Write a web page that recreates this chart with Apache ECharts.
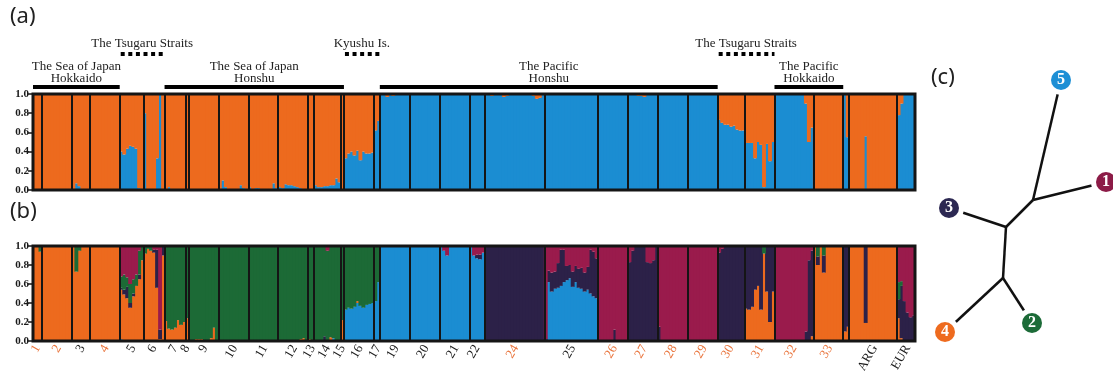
<!DOCTYPE html>
<html><head><meta charset="utf-8">
<script src="https://cdn.jsdelivr.net/npm/echarts@6/dist/echarts.min.js"></script>
<style>html,body{margin:0;padding:0;background:#fff}#c{width:1113px;height:371px}</style>
</head><body><div id="c"></div>
<script>
// ---------- populations ----------
const popLabels = ['1','2','3','4','5','6','7','8','9','10','11','12','13','14','15','16','17','19','20','21','22','24','25','26','27','28','29','30','31','32','33','','ARG','EUR'];
const popSizes  = [3,10,6,10,8,7,7,1,10,10,10,10,2,9,1,10,2,10,10,10,5,20,18,10,10,10,10,9,10,13,10,2,16,6];
const orangeLabelPops = ['1','2','4','24','26','27','28','29','30','31','32','33'];
const yTicks = [0, 0.2, 0.4, 0.6, 0.8, 1.0];

// ---------- (a) K=2 : blue membership per individual (orange = remainder) ----------
const k2Blue = [
 [0,0,0],
 [0,0,0,0,0,0,0,0,0,0],
 [0,0.07,0.04,0,0,0],
 [0,0,0,0,0,0,0,0,0,0],
 [0.40,0.37,0.43,0.46,0.45,0.43,0.02,0],
 [0.80,0,0,0,0.33,1,0],
 [0,0.03,0,0,0,0,0],
 [0],
 [0,0,0,0,0,0,0,0,0,0],
 [0,0.10,0.03,0,0,0,0,0.05,0.02,0],
 [0.03,0,0.02,0.02,0,0,0,0,0.07,0.02],
 [0.03,0.02,0.06,0.05,0.05,0.04,0.03,0.02,0.01,0],
 [0,0],
 [0.05,0.03,0.03,0.04,0.04,0.05,0.05,0.12,0.08],
 [0],
 [0.33,0.38,0.40,0.36,0.41,0.31,0.40,0.38,0.38,0.39],
 [0.62,0.72],
 [1,1,0.97,1,0.98,1,1,1,1,1],
 [1,1,1,1,1,1,1,1,1,1],
 [1,1,1,1,1,1,1,1,1,1],
 [1,0.99,1,1,1],
 [0.99,0.99,0.98,0.99,0.99,0.99,0.97,0.98,0.99,0.99,0.99,0.99,0.99,0.99,0.99,0.99,0.98,0.95,0.96,0.99],
 [1,1,1,1,1,1,1,1,1,1,1,1,1,1,1,1,1,1],
 [1,1,1,1,1,1,1,1,1,1],
 [1,1,1,0.98,0.98,0.97,1,1,1,1],
 [1,1,1,1,1,1,1,1,1,1],
 [1,1,1,1,1,1,1,1,1,1],
 [0.73,0.70,0.68,0.68,0.66,0.67,0.63,0.62,0.62],
 [0.49,0.49,0.49,0.33,0.50,0.47,0.03,0.48,0.30,0.50],
 [1,1,1,1,1,1,1,1,1,1,0.90,0.50,0.65],
 [0,0,0,0,0,0,0,0,0,0],
 [1,0.55],
 [0,0,0,0,0,0.56,0,0,0,0,0,0,0,0,0,0],
 [0.78,0.90,1,1,1,1]
];

// ---------- (b) K=5 ----------
const k5Blue = [
 [0,0,0],
 [0,0,0,0,0,0,0,0,0,0],
 [0,0,0,0,0,0],
 [0,0,0,0,0,0,0,0,0,0],
 [0.02,0,0,0,0,0,0,0],
 [0,0,0,0,0,0,0],
 [0,0,0,0,0,0,0],
 [0],
 [0,0,0,0,0,0,0,0,0,0],
 [0,0,0,0,0,0,0,0,0,0],
 [0,0,0,0,0,0,0,0,0,0],
 [0,0,0,0,0,0,0,0,0,0],
 [0,0],
 [0,0,0,0,0,0,0.03,0,0],
 [0],
 [0.33,0.35,0.34,0.36,0.40,0.37,0.35,0.38,0.39,0.40],
 [0.42,0.62],
 [1,1,1,1,1,1,1,1,1,1],
 [1,1,1,1,1,1,1,1,1,1],
 [1,0.95,0.90,1,1,1,1,1,1,1],
 [1,0.90,0.87,0.86,0.93],
 [0,0,0,0,0,0,0,0,0,0,0,0,0,0,0,0,0,0,0,0],
 [0,0.62,0.52,0.55,0.56,0.58,0.62,0.64,0.66,0.57,0.62,0.56,0.55,0.52,0.54,0.50,0.47,0.45],
 [0,0,0,0,0,0,0,0,0,0],
 [0,0,0,0,0,0,0,0,0,0],
 [0,0,0,0,0,0,0,0,0,0],
 [0,0,0,0,0,0,0,0,0,0],
 [0,0,0,0,0,0,0,0,0],
 [0,0,0,0,0,0,0,0,0,0],
 [0,0,0,0,0,0,0,0,0,0,0,0,0],
 [0,0,0,0,0,0,0,0,0,0],
 [0,0],
 [0,0,0,0,0,0,0,0,0,0,0,0,0,0,0,0],
 [0,0,0,0,0,0]
];
const k5Orange = [
 [1,1,0.94],
 [1,1,1,1,1,1,1,1,1,1],
 [1,0.73,0.95,1,1,1],
 [1,1,1,1,1,1,1,1,1,1],
 [0.52,0.49,0.45,0.35,0.47,0.58,0.65,0.85],
 [0.92,0.97,0.95,0.93,0.56,0.02,0.90],
 [0.21,0.13,0.12,0.14,0.22,0.17,0.20],
 [0.24],
 [0,0,0.02,0.02,0.02,0,0,0.03,0.14,0],
 [0,0,0,0,0,0,0,0,0,0],
 [0,0,0,0,0,0,0,0,0,0],
 [0,0,0,0,0,0,0,0.02,0.03,0],
 [0.02,0],
 [0,0,0,0,0,0.04,0,0,0],
 [0.22],
 [0,0,0,0,0.02,0,0,0,0,0],
 [0,0],
 [0,0,0,0,0,0,0,0,0,0],
 [0,0,0,0,0,0,0,0,0,0],
 [0,0,0,0,0,0,0,0,0,0],
 [0,0,0,0,0],
 [0,0,0,0,0,0,0,0,0,0,0,0,0,0,0,0,0,0,0,0],
 [0,0,0,0,0,0,0,0,0,0,0,0,0,0,0,0,0,0],
 [0,0,0,0,0,0,0,0,0,0],
 [0,0,0,0,0,0,0,0,0,0],
 [0,0,0,0,0,0,0,0,0,0],
 [0,0,0,0,0,0,0,0,0,0],
 [0,0,0,0,0,0,0,0,0],
 [0.34,0.33,0.36,0.54,0.58,0.33,0.92,0.52,0.20,0.52],
 [0,0,0,0,0,0,0,0,0,0,0,0,0.05],
 [1,0.80,1,0.72,1,1,1,1,1,1],
 [0.10,0.15],
 [1,1,1,1,1,0.19,1,1,1,1,1,1,1,1,1,1],
 [0.24,0.03,0,0,0,0]
];
const k5Navy = [
 [0,0,0],
 [0,0,0,0,0,0,0,0,0,0],
 [0,0,0,0,0,0],
 [0,0,0,0,0,0,0,0,0,0],
 [0.02,0.05,0.12,0.05,0.03,0,0.05,0],
 [0,0,0,0.03,0.40,0.10,0.10],
 [0,0,0,0,0,0,0],
 [0],
 [0,0,0,0,0,0,0,0,0,0],
 [0,0,0,0,0,0,0,0,0,0],
 [0,0,0,0,0,0,0,0,0,0],
 [0,0,0,0,0,0,0,0,0,0],
 [0,0],
 [0,0,0,0.05,0,0,0,0,0],
 [0],
 [0,0,0,0,0,0,0,0,0,0],
 [0,0],
 [0,0,0,0,0,0,0,0,0,0],
 [0,0,0,0,0,0,0,0,0,0],
 [0,0,0,0,0,0,0,0,0,0],
 [0,0,0.04,0.05,0],
 [1,1,1,1,1,1,1,1,1,1,1,1,1,1,1,1,1,1,1,1],
 [0.02,0.12,0.20,0.18,0.26,0.38,0.34,0.15,0.14,0.16,0.17,0.20,0.22,0.20,0.24,0.46,0.47,0.42],
 [0,0,0,0,0,0.12,0,0,0,0],
 [0.83,0.95,1,1,1,1,0.83,0.82,0.85,1],
 [0.15,0,0,0,0,0,0,0,0,0],
 [0,0,0,0,0,0,0,0,0,0],
 [0.93,0.97,1,1,1,1,1,1,1],
 [0.66,0.67,0.64,0.46,0.42,0.67,0,0.48,0.80,0.48],
 [0,0,0,0,0,0,0,0,0,0,0.10,0.85,0.90],
 [0,0.09,0,0.18,0,0,0,0,0,0],
 [0.90,0.85],
 [0,0,0,0,0,0.81,0,0,0,0,0,0,0,0,0,0],
 [0.20,0.55,0.42,0.30,0.25,0.27]
];
const k5Green = [
 [0,0,0.06],
 [0,0,0,0,0,0,0,0,0,0],
 [0,0.27,0.05,0,0,0],
 [0,0,0,0,0,0,0,0,0,0],
 [0.12,0.16,0.10,0.20,0.15,0.12,0.25,0.15],
 [0.08,0.03,0.05,0,0,0,0],
 [0.79,0.87,0.88,0.86,0.78,0.83,0.80],
 [0.76],
 [1,1,0.98,0.98,0.98,1,1,0.97,0.86,1],
 [1,1,1,1,1,1,1,1,1,1],
 [1,1,1,1,1,1,1,1,1,1],
 [1,1,1,1,1,1,1,0.98,0.97,1],
 [0.98,1],
 [1,1,1,0.95,0.95,0.96,0.97,1,1],
 [0.78],
 [0.67,0.65,0.66,0.64,0.58,0.63,0.65,0.62,0.61,0.60],
 [0.58,0.38],
 [0,0,0,0,0,0,0,0,0,0],
 [0,0,0,0,0,0,0,0,0,0],
 [0,0,0,0,0,0,0,0,0,0],
 [0,0,0,0,0],
 [0,0,0,0,0,0,0,0,0,0,0,0,0,0,0,0,0,0,0,0],
 [0,0,0,0,0,0,0,0,0,0,0,0,0,0,0,0,0,0],
 [0,0,0,0,0,0,0,0,0,0],
 [0,0,0,0,0,0,0,0,0,0],
 [0,0,0,0,0,0,0,0,0,0],
 [0,0,0,0,0,0,0,0,0,0],
 [0,0,0,0,0,0,0,0,0],
 [0,0,0,0,0,0,0.08,0,0,0],
 [0,0,0,0,0,0,0,0,0,0,0,0,0],
 [0,0.11,0,0.10,0,0,0,0,0,0],
 [0,0],
 [0,0,0,0,0,0,0,0,0,0,0,0,0,0,0,0],
 [0.18,0.05,0,0,0,0]
];
const k5Crimson = [
 [0,0,0],
 [0,0,0,0,0,0,0,0,0,0],
 [0,0,0,0,0,0],
 [0,0,0,0,0,0,0,0,0,0],
 [0.32,0.30,0.33,0.40,0.35,0.30,0.05,0],
 [0,0,0,0.04,0.04,0.88,0],
 [0,0,0,0,0,0,0],
 [0],
 [0,0,0,0,0,0,0,0,0,0],
 [0,0,0,0,0,0,0,0,0,0],
 [0,0,0,0,0,0,0,0,0,0],
 [0,0,0,0,0,0,0,0,0,0],
 [0,0],
 [0,0,0,0,0.05,0,0,0,0],
 [0],
 [0,0,0,0,0,0,0,0,0,0],
 [0,0],
 [0,0,0,0,0,0,0,0,0,0],
 [0,0,0,0,0,0,0,0,0,0],
 [0,0.05,0.10,0,0,0,0,0,0,0],
 [0,0.10,0.09,0.09,0.07],
 [0,0,0,0,0,0,0,0,0,0,0,0,0,0,0,0,0,0,0,0],
 [0.98,0.26,0.28,0.27,0.18,0.04,0.04,0.21,0.20,0.27,0.21,0.24,0.23,0.28,0.22,0.04,0.06,0.13],
 [1,1,1,1,1,0.88,1,1,1,1],
 [0.17,0.05,0,0,0,0,0.17,0.18,0.15,0],
 [0.85,1,1,1,1,1,1,1,1,1],
 [1,1,1,1,1,1,1,1,1,1],
 [0.07,0.03,0,0,0,0,0,0,0],
 [0,0,0,0,0,0,0,0,0,0],
 [1,1,1,1,1,1,1,1,1,1,0.90,0.15,0.05],
 [0,0,0,0,0,0,0,0,0,0],
 [0,0],
 [0,0,0,0,0,0,0,0,0,0,0,0,0,0,0,0],
 [0.38,0.37,0.58,0.70,0.75,0.73]
];

// ---------- regional annotations above (a) ----------
const regionTexts  = ['The Sea of Japan\nHokkaido','The Tsugaru Straits','The Sea of Japan\nHonshu','Kyushu Is.','The Pacific\nHonshu','The Tsugaru Straits','The Pacific\nHokkaido'];
const regionFrom   = ['1','5','7','16','19','30','32'];
const regionTo     = ['4','6','15','17','29','31','33'];
const regionDotted = [false,true,false,true,false,true,false];

// ---------- (c) tree ----------
const treeNodes = ['1','2','3','4','5','','',''];
const treeX = [176,102,19,15,131,103,76,73];
const treeY = [122,263,148,272,20,140,167,218];
const treeEdges = [[4,5],[0,5],[5,6],[2,6],[6,7],[3,7],[1,7]];
const leafColors = ['#8c1b47','#1c6b38','#2c2852','#ee6b1f','#1d8fd5'];

// ---------- colours ----------
const C = {orange:'#ed6a1e', blue:'#1b8dd2', navy:'#2c2148', green:'#1c6a36', crimson:'#9a1b4c'};

// ---------- build ----------
popSizes.forEach((s,p)=>{
  [k2Blue,k5Blue,k5Orange,k5Navy,k5Green,k5Crimson].forEach((arr,j)=>{
    if(arr[p].length!==s) throw new Error('size mismatch pop '+popLabels[p]+' array '+j+' got '+arr[p].length);
  });
});
const cats = [], popStart = [];
let n = 0;
popSizes.forEach((s,p)=>{ popStart.push(n); for(let i=0;i<s;i++){ cats.push('p'+p+'_'+i); } n += s; });
const N = cats.length;
const boundarySet = new Set(popStart.slice(1));
const labelAt = {};
popStart.forEach((s,p)=>{ labelAt[s+Math.floor(popSizes[p]/2)] = p; });

const chartW = 1113, gridLeft = 33, gridRight = 198;
const barW = (chartW - gridLeft - gridRight) / N + 0.9;   // slight overlap removes anti-alias seams

const chart = echarts.init(document.getElementById('c'), null, {renderer:'canvas'});

const gridBase = {left:gridLeft, right:gridRight, show:true, borderColor:'#151515', borderWidth:3, backgroundColor:'transparent', z:10, containLabel:false, outerBoundsMode:'none'};
function xAxisCfg(gi, labels){
  return {type:'category', gridIndex:gi, data:cats, boundaryGap:true, z:6,
    axisLine:{show:false}, axisTick:{show:false},
    splitLine:{show:true, interval:(i)=>boundarySet.has(i), lineStyle:{color:'#151515', width:2}},
    axisLabel: labels ? {
      show:true, interval:0, rotate:60, margin:5,
      formatter:(v,i)=>{ const idx = cats.indexOf(v); const p = labelAt[idx]; if(p===undefined) return ''; const t = popLabels[p]; if(!t) return ''; return (orangeLabelPops.includes(t)?'{o|':'{k|')+t+'}'; },
      rich:{ o:{color:'#e9743c', fontFamily:'Liberation Serif', fontSize:13}, k:{color:'#1a1a1a', fontFamily:'Liberation Serif', fontSize:13} }
    } : {show:false}
  };
}
function yAxisCfg(gi){
  return {type:'value', gridIndex:gi, min:0, max:1, interval:0.2, z:6,
    axisLine:{show:true, lineStyle:{color:'#151515', width:1.5}},
    axisTick:{show:true, length:5, lineStyle:{color:'#151515', width:1.5}},
    splitLine:{show:false},
    axisLabel:{show:true, margin:4, formatter:v=>v.toFixed(1), color:'#1a1a1a', fontFamily:'Liberation Serif', fontWeight:'bold', fontSize:11}
  };
}
function barSeries(name, data, color, gi, stack){
  return {type:'bar', name, data, stack, xAxisIndex:gi, yAxisIndex:gi, barWidth:barW, barGap:'-100%',
    itemStyle:{color, opacity:1}, emphasis:{disabled:true}, animation:false, z:2};
}

const series = [
  barSeries('K2 blue', k2Blue.flat(), C.blue, 0, 'a'),
  barSeries('K2 orange', k2Blue.flat().map(v=>+(1-v).toFixed(2)), C.orange, 0, 'a'),
  barSeries('K5 blue', k5Blue.flat(), C.blue, 1, 'b'),
  barSeries('K5 orange', k5Orange.flat(), C.orange, 1, 'b'),
  barSeries('K5 navy', k5Navy.flat(), C.navy, 1, 'b'),
  barSeries('K5 green', k5Green.flat(), C.green, 1, 'b'),
  barSeries('K5 crimson', k5Crimson.flat(), C.crimson, 1, 'b'),
  {type:'lines', coordinateSystem:'cartesian2d', xAxisIndex:2, yAxisIndex:2, z:2, animation:false,
   lineStyle:{color:'#111', width:2.5, opacity:1},
   data: treeEdges.map(e=>({coords:[[treeX[e[0]],treeY[e[0]]],[treeX[e[1]],treeY[e[1]]]]}))},
  {type:'scatter', xAxisIndex:2, yAxisIndex:2, z:3, symbolSize:30, itemStyle:{color:'#fff', opacity:1}, silent:true, animation:false,
   data: treeNodes.map((t,i)=>[treeX[i],treeY[i]]).slice(0,5)},
  {type:'scatter', xAxisIndex:2, yAxisIndex:2, z:4, symbolSize:20, silent:true, animation:false,
   data: treeNodes.slice(0,5).map((t,i)=>({name:t, value:[treeX[i],treeY[i]], itemStyle:{color:leafColors[i], opacity:1}})),
   label:{show:true, position:'inside', formatter:p=>p.name, color:'#fff', fontFamily:'Liberation Serif', fontWeight:'bold', fontSize:16}}
];

chart.setOption({
  animation:false,
  backgroundColor:'#fff',
  grid:[
    Object.assign({}, gridBase, {top:94, height:96}),
    Object.assign({}, gridBase, {top:246, height:95}),
    {left:930, top:60, width:183, height:300, show:false, containLabel:false, outerBoundsMode:'none'}
  ],
  xAxis:[ xAxisCfg(0,false), xAxisCfg(1,true),
    {type:'value', gridIndex:2, min:0, max:183, show:false} ],
  yAxis:[ yAxisCfg(0), yAxisCfg(1),
    {type:'value', gridIndex:2, min:0, max:300, inverse:true, show:false} ],
  series
});

// annotations positioned through the axis scale
const c0 = chart.convertToPixel({xAxisIndex:0}, cats[0]);
const c1 = chart.convertToPixel({xAxisIndex:0}, cats[1]);
const band = c1 - c0;
const yTop = chart.convertToPixel({yAxisIndex:0}, 1);
function popLeft(lbl){ const p = popLabels.indexOf(lbl); return chart.convertToPixel({xAxisIndex:0}, cats[popStart[p]]) - band/2; }
function popRight(lbl){ const p = popLabels.indexOf(lbl); return chart.convertToPixel({xAxisIndex:0}, cats[popStart[p]+popSizes[p]-1]) + band/2; }
const graphic = [];
regionTexts.forEach((t,i)=>{
  const x1 = popLeft(regionFrom[i]), x2 = popRight(regionTo[i]);
  const dotted = regionDotted[i];
  const ly = dotted ? yTop-40 : yTop-7;
  graphic.push({type:'line', silent:true, shape:{x1:x1+ (dotted?1:0), y1:ly, x2:x2, y2:ly},
    style:{stroke:'#000', lineWidth:4, lineDash: dotted ? [4,3.6] : null}});
  graphic.push({type:'text', silent:true, x:(x1+x2)/2, y: dotted ? yTop-50 : yTop-21,
    style:{text:t, align:'center', verticalAlign:'middle', fontFamily:'Liberation Serif', fontSize:13, lineHeight:12, fill:'#222'}});
});
[['(a)',10,6],['(b)',10,201],['(c)',931,67]].forEach(a=>{
  graphic.push({type:'text', silent:true, x:a[1], y:a[2], style:{text:a[0], fontFamily:'Noto Sans', fontSize:22, fill:'#222'}});
});
chart.setOption({graphic});
</script></body></html>
